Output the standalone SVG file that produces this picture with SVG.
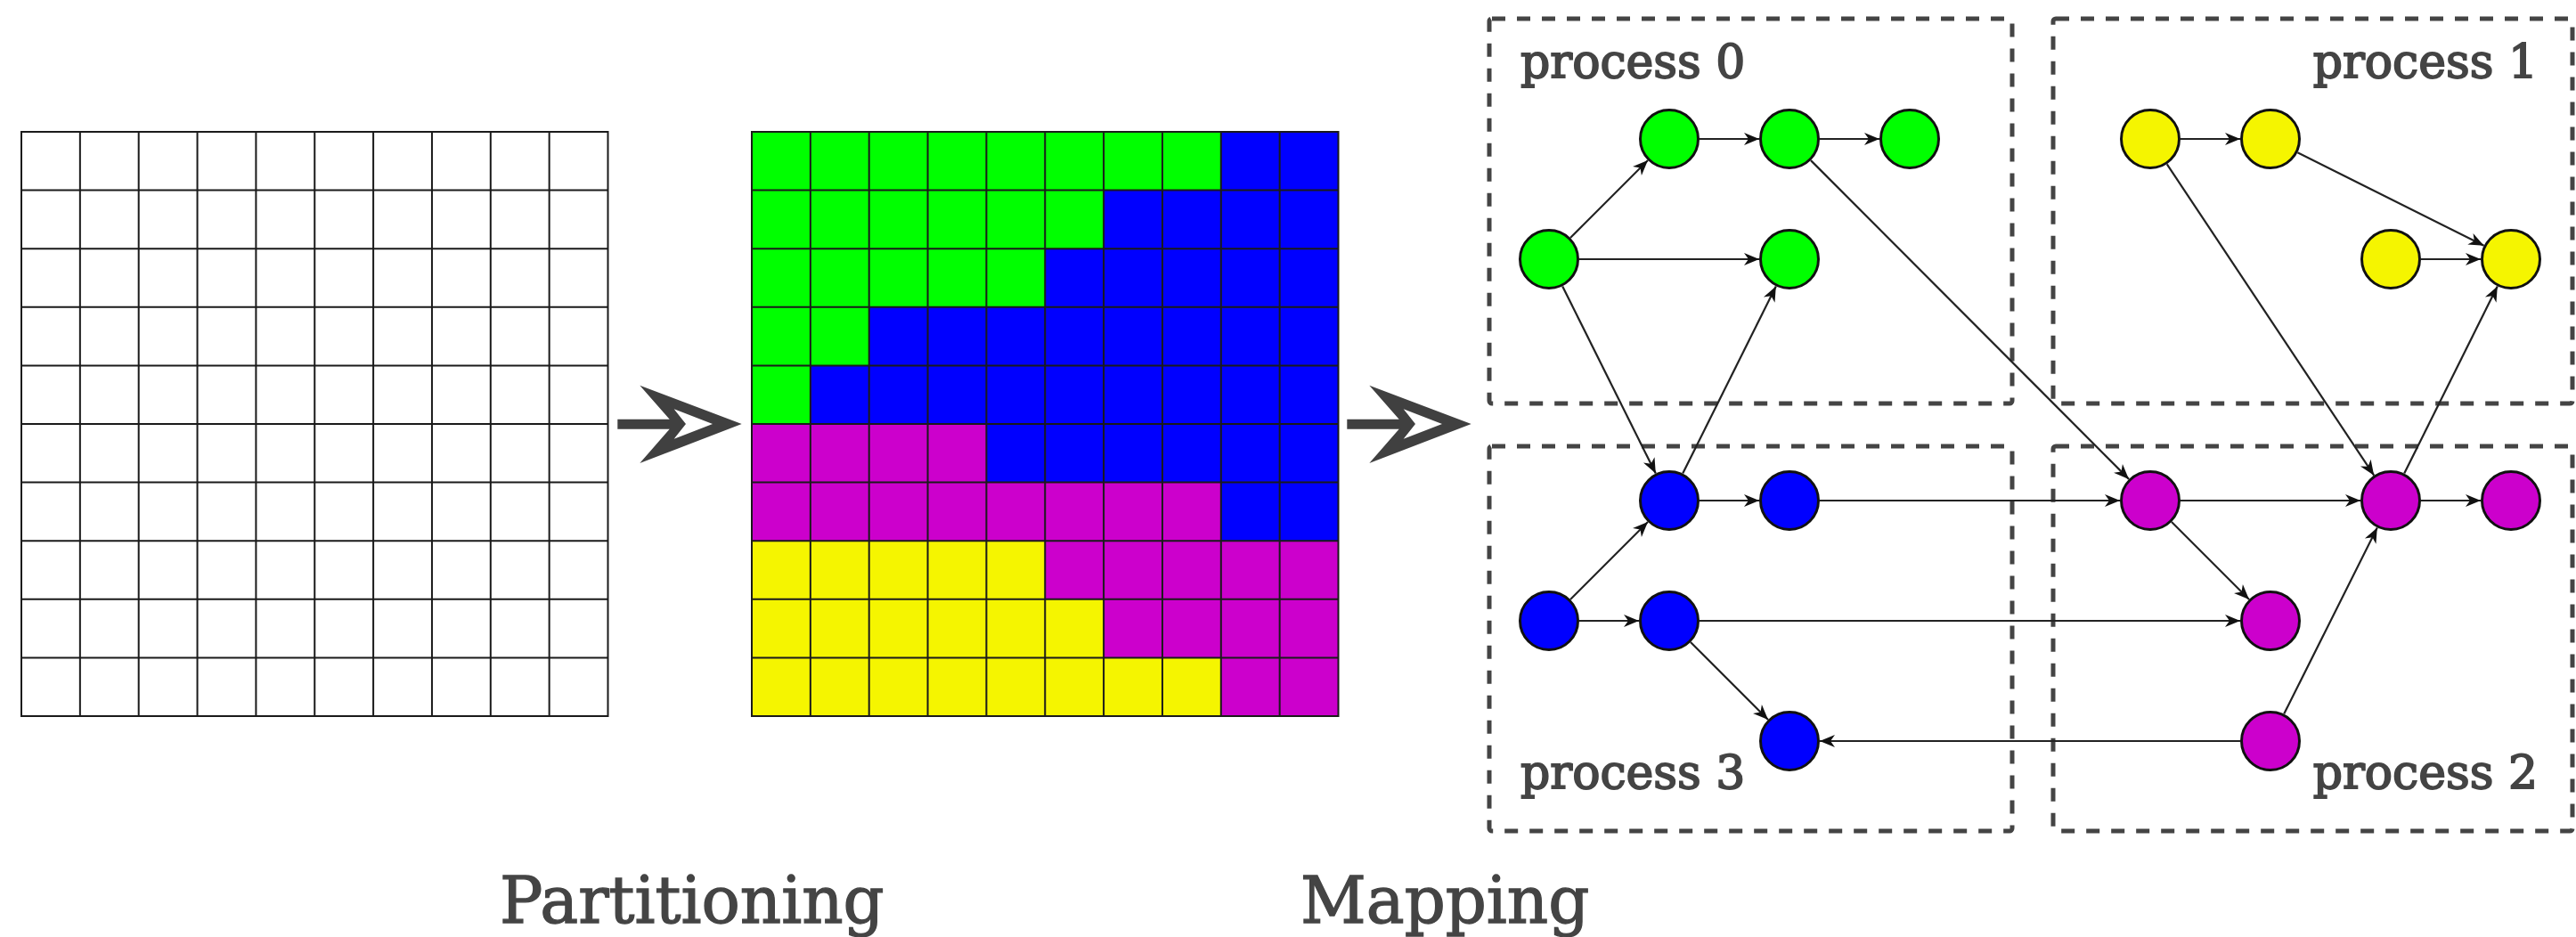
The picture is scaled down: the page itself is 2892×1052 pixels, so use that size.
<svg xmlns="http://www.w3.org/2000/svg" xmlns:xlink="http://www.w3.org/1999/xlink" width="2892" height="1052" viewBox="0 0 2892 1052">
<style>
.gl{fill:none;stroke:#1a1a1a;stroke-width:2}
.box{fill:none;stroke:#444;stroke-width:5;stroke-dasharray:15 13}
.lbl{font-family:"DejaVu Serif","Liberation Serif",serif;font-size:52px;fill:#444;stroke:#444;stroke-width:1.8}
.cap{font-family:"DejaVu Serif","Liberation Serif",serif;font-size:72px;fill:#444;stroke:#444;stroke-width:1.3}
.nd{stroke:#111;stroke-width:3}
.g{fill:#00ff00}.b{fill:#0000ff}.m{fill:#cc00cc}.y{fill:#f5f500}
.ea{fill:none;stroke:#222;stroke-width:2.2;marker-end:url(#ah)}
.big{fill:#404040;fill-rule:evenodd}
</style>
<defs>
<marker id="ah" viewBox="-18 -8 19 16" refX="0" refY="0" markerWidth="19" markerHeight="16" markerUnits="userSpaceOnUse" orient="auto">
<path d="M0,0 L-17,-7 L-12,0 L-17,7 Z" fill="#111"/>
</marker>
<path id="gridlines" class="gl" d="M0,0H658.5V656H0Z M65.85,0V656 M131.7,0V656 M197.55,0V656 M263.4,0V656 M329.25,0V656 M395.1,0V656 M460.95,0V656 M526.8,0V656 M592.65,0V656 M0,65.6H658.5 M0,131.2H658.5 M0,196.8H658.5 M0,262.4H658.5 M0,328H658.5 M0,393.6H658.5 M0,459.2H658.5 M0,524.8H658.5 M0,590.4H658.5"/>
<path id="bigarrow" class="big" d="M718.3,432.7 L832.7,476 L718.3,520 L751.7,481.7 L693.3,481.7 L693.3,470.7 L751.7,470.7 Z M756.7,459.3 L770,476 L756.7,492.7 L800,476 Z"/>
</defs>
<rect width="2892" height="1052" fill="#fff"/>

<g id="grid-plain">
<use xlink:href="#gridlines" transform="translate(24,148)"/>
</g>

<g id="grid-partitioned" transform="translate(844,148)">
<rect class="b" x="0" y="0" width="658.5" height="656"/>
<rect class="g" x="0" y="0" width="526.8" height="65.6"/>
<rect class="g" x="0" y="65.6" width="395.1" height="65.6"/>
<rect class="g" x="0" y="131.2" width="329.25" height="65.6"/>
<rect class="g" x="0" y="196.8" width="131.7" height="65.6"/>
<rect class="g" x="0" y="262.4" width="65.85" height="65.6"/>
<rect class="m" x="0" y="328" width="263.4" height="65.6"/>
<rect class="m" x="0" y="393.6" width="526.8" height="65.6"/>
<rect class="m" x="329.25" y="459.2" width="329.25" height="65.6"/>
<rect class="m" x="395.1" y="524.8" width="263.4" height="65.6"/>
<rect class="m" x="526.8" y="590.4" width="131.7" height="65.6"/>
<rect class="y" x="0" y="459.2" width="329.25" height="65.6"/>
<rect class="y" x="0" y="524.8" width="395.1" height="65.6"/>
<rect class="y" x="0" y="590.4" width="526.8" height="65.6"/>
<use xlink:href="#gridlines"/>
</g>

<g id="arrow-partition">
<use xlink:href="#bigarrow"/>
</g>
<g id="arrow-mapping">
<use xlink:href="#bigarrow" transform="translate(819,0)"/>
</g>

<g id="process0"><rect class="box" x="1672" y="21" width="587" height="432" rx="3"/><text class="lbl" x="1707" y="87">process 0</text></g>
<g id="process1"><rect class="box" x="2305" y="21" width="583" height="432" rx="3"/><text class="lbl" x="2849" y="87" text-anchor="end">process 1</text></g>
<g id="process3"><rect class="box" x="1672" y="501" width="587" height="432" rx="3"/><text class="lbl" x="1707" y="885">process 3</text></g>
<g id="process2"><rect class="box" x="2305" y="501" width="583" height="432" rx="3"/><text class="lbl" x="2849" y="885" text-anchor="end">process 2</text></g>

<g id="connectors">
<line class="ea" x1="1763" y1="267" x2="1850" y2="180"/>
<line class="ea" x1="1908" y1="156" x2="1975" y2="156"/>
<line class="ea" x1="2043" y1="156" x2="2110" y2="156"/>
<line class="ea" x1="1773" y1="291" x2="1975" y2="291"/>
<line class="ea" x1="1754.2" y1="321.4" x2="1858.8" y2="531.6"/>
<line class="ea" x1="1889.2" y1="531.6" x2="1993.8" y2="321.4"/>
<line class="ea" x1="2033" y1="180.1" x2="2390" y2="537.9"/>
<line class="ea" x1="2448" y1="156" x2="2515" y2="156"/>
<line class="ea" x1="2579.4" y1="171.2" x2="2788.6" y2="275.8"/>
<line class="ea" x1="2718" y1="291" x2="2785" y2="291"/>
<line class="ea" x1="2432.8" y1="184.3" x2="2665.2" y2="533.7"/>
<line class="ea" x1="2699.2" y1="531.6" x2="2803.8" y2="321.4"/>
<line class="ea" x1="1763" y1="673" x2="1850" y2="586"/>
<line class="ea" x1="1908" y1="562" x2="1975" y2="562"/>
<line class="ea" x1="1773" y1="697" x2="1840" y2="697"/>
<line class="ea" x1="1898" y1="721" x2="1985" y2="808"/>
<line class="ea" x1="2043" y1="562" x2="2380" y2="562"/>
<line class="ea" x1="1908" y1="697" x2="2515" y2="697"/>
<line class="ea" x1="2515" y1="832" x2="2043" y2="832"/>
<line class="ea" x1="2448" y1="562" x2="2650" y2="562"/>
<line class="ea" x1="2718" y1="562" x2="2785" y2="562"/>
<line class="ea" x1="2438" y1="586" x2="2525" y2="673"/>
<line class="ea" x1="2564.2" y1="801.6" x2="2668.8" y2="592.4"/>
</g>

<g id="n-g1"><circle class="nd g" cx="1739" cy="291" r="32.5"/></g>
<g id="n-g2"><circle class="nd g" cx="1874" cy="156" r="32.5"/></g>
<g id="n-g3"><circle class="nd g" cx="2009" cy="156" r="32.5"/></g>
<g id="n-g4"><circle class="nd g" cx="2144" cy="156" r="32.5"/></g>
<g id="n-g5"><circle class="nd g" cx="2009" cy="291" r="32.5"/></g>
<g id="n-y1"><circle class="nd y" cx="2414" cy="156" r="32.5"/></g>
<g id="n-y2"><circle class="nd y" cx="2549" cy="156" r="32.5"/></g>
<g id="n-y3"><circle class="nd y" cx="2684" cy="291" r="32.5"/></g>
<g id="n-y4"><circle class="nd y" cx="2819" cy="291" r="32.5"/></g>
<g id="n-b1"><circle class="nd b" cx="1874" cy="562" r="32.5"/></g>
<g id="n-b2"><circle class="nd b" cx="2009" cy="562" r="32.5"/></g>
<g id="n-b3"><circle class="nd b" cx="1739" cy="697" r="32.5"/></g>
<g id="n-b4"><circle class="nd b" cx="1874" cy="697" r="32.5"/></g>
<g id="n-b5"><circle class="nd b" cx="2009" cy="832" r="32.5"/></g>
<g id="n-m1"><circle class="nd m" cx="2414" cy="562" r="32.5"/></g>
<g id="n-m2"><circle class="nd m" cx="2684" cy="562" r="32.5"/></g>
<g id="n-m3"><circle class="nd m" cx="2819" cy="562" r="32.5"/></g>
<g id="n-m4"><circle class="nd m" cx="2549" cy="697" r="32.5"/></g>
<g id="n-m5"><circle class="nd m" cx="2549" cy="832" r="32.5"/></g>

<text class="cap" x="561" y="1036">Partitioning</text>
<text class="cap" x="1460" y="1036">Mapping</text>
</svg>
